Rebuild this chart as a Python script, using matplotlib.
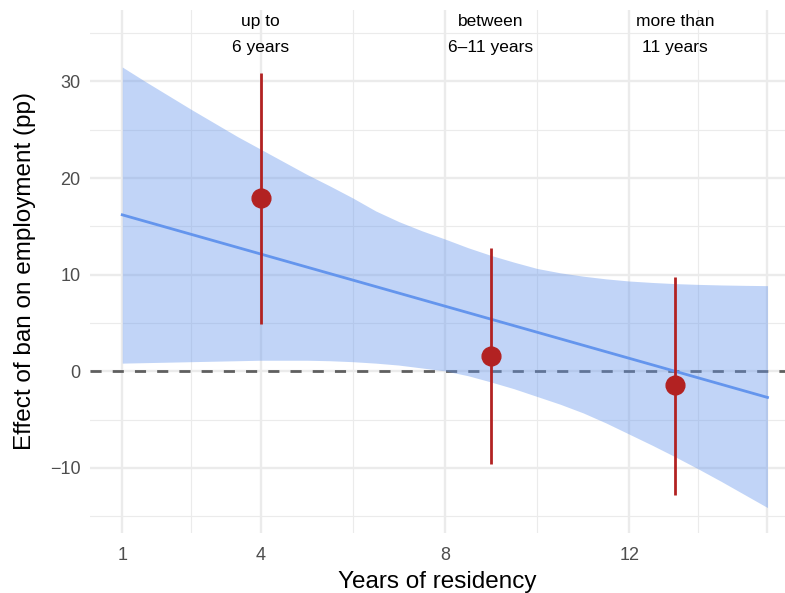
import numpy as np
import matplotlib
matplotlib.use("Agg")
import matplotlib.pyplot as plt

plt.rcParams['font.family'] = ['Liberation Sans', 'DejaVu Sans']

# estimativas por grupo de residencia
anos = [4, 9, 13]
efeito = [17.9, 1.6, -1.4]
ic_baixo = [4.9, -9.6, -12.8]
ic_alto = [30.9, 12.75, 9.8]
grupos = ['up to\n6 years', 'between\n6\u201311 years', 'more than\n11 years']

# reta ajustada e faixa de confianca
reta_x = [1, 15]
reta_y = [16.2, -2.7]
faixa_x = [1, 1.5, 2, 2.5, 3, 3.5, 4, 4.5, 5, 5.5, 6, 6.5, 7, 7.5, 8,
           8.5, 9, 9.5, 10, 10.5, 11, 11.5, 12, 12.5, 13, 13.5, 14, 14.5, 15]
faixa_alto = [31.5, 30.0, 28.55, 27.1, 25.7, 24.3, 23.0, 21.7, 20.4, 19.2, 17.95, 16.6, 15.5, 14.55, 13.7,
              12.8, 12.0, 11.3, 10.65, 10.2, 9.85, 9.57, 9.35, 9.2, 9.08, 9.0, 8.94, 8.9, 8.87]
faixa_baixo = [0.85, 0.9, 0.95, 1.0, 1.05, 1.1, 1.15, 1.15, 1.15, 1.1, 1.0, 0.85, 0.65, 0.35, 0.05,
               -0.45, -1.1, -1.8, -2.6, -3.4, -4.3, -5.35, -6.5, -7.65, -8.85, -10.1, -11.4, -12.75, -14.1]

xticks = [1, 4, 8, 12, 15]
xticklabels = ['1', '4', '8', '12', '']
yticks = [-10, 0, 10, 20, 30]

fig = plt.figure(figsize=(7.85, 5.93), dpi=100)
ax = fig.add_axes([90/785, 60.3/593, 695/785, 522.7/593])

ax.axhline(0, color='#5f5f5f', lw=2, dashes=(4, 4), zorder=1.5)
ax.fill_between(faixa_x, faixa_baixo, faixa_alto, color='cornflowerblue', alpha=0.4, lw=0, zorder=2)
ax.plot(reta_x, reta_y, color='cornflowerblue', lw=2, zorder=3)
ax.vlines(anos, ic_baixo, ic_alto, color='firebrick', lw=2, zorder=4)
ax.plot(anos, efeito, 'o', color='firebrick', ms=13.5, zorder=5)

for x, txt in zip(anos, grupos):
    ax.text(x, 34.9, txt, ha='center', va='center', fontsize=12.5, linespacing=1.9, color='black')

ax.set_xlim(0.30, 15.38)
ax.set_ylim(-16.7, 37.4)
ax.set_xticks(xticks)
ax.set_xticklabels(xticklabels)
ax.set_xticks([2.5, 6, 10, 13.5], minor=True)
ax.set_yticks(yticks)
ax.set_yticklabels(['\u221210', '0', '10', '20', '30'])
ax.set_yticks([-15, -5, 5, 15, 25, 35], minor=True)

ax.grid(which='major', color='#ebebeb', lw=1.7, zorder=0)
ax.grid(which='minor', color='#ebebeb', lw=0.85, zorder=0)
ax.set_axisbelow(True)
for s in ax.spines.values():
    s.set_visible(False)
ax.tick_params(which='both', length=0, labelsize=13, labelcolor='#4d4d4d')
ax.tick_params(axis='x', pad=10)
ax.tick_params(axis='y', pad=7)

ax.set_xlabel('Years of residency', fontsize=17.5, labelpad=5)
ax.set_ylabel('Effect of ban on employment (pp)', fontsize=17.5, labelpad=10)

fig.savefig('out.png', dpi=100)
